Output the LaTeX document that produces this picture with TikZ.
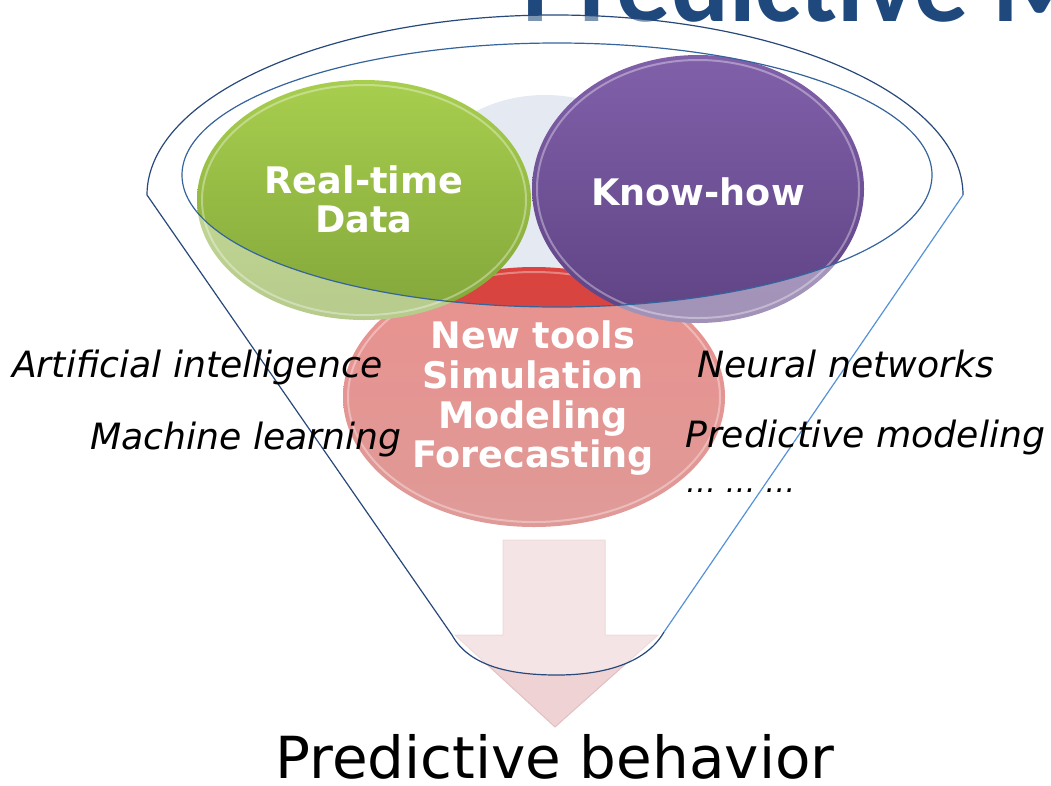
\documentclass[tikz,border=0pt]{standalone}
\usepackage{fontspec}
\setmainfont{DejaVu Sans}
\newfontfamily\titlefont{Carlito}
\definecolor{titleblue}{HTML}{1F497D}
\definecolor{bgpatch}{HTML}{E4E9F2}
\definecolor{greentop}{HTML}{A8CE4E}
\definecolor{greenbot}{HTML}{82A63A}
\definecolor{purptop}{HTML}{8160AA}
\definecolor{purpbot}{HTML}{5E4384}
\definecolor{redtop}{HTML}{DA433E}
\definecolor{redbot}{HTML}{C9524D}
\definecolor{arrowfill}{HTML}{EFD2D4}
\definecolor{arrowline}{HTML}{E2C0C2}
\definecolor{dkblue}{HTML}{27487A}
\definecolor{ltblue}{HTML}{5591D8}
\definecolor{mdblue}{HTML}{35649C}
\begin{document}
\begin{tikzpicture}[x=1pt,y=-1pt,
  lbl/.style={font=\fontsize{36.2}{40}\selectfont\itshape, anchor=base west, inner sep=0},
  boldtxt/.style={font=\fontsize{36.6}{40}\selectfont\bfseries, text=white, anchor=base, inner sep=0},
  rim/.style={draw=white, draw opacity=0.35, line width=2pt},
  funnelline/.style={line width=1.2pt},
]
\useasboundingbox (0,0) rectangle (1051,785);
% title (cut off at the top)
\begin{scope}
\clip (0,0) rectangle (1051,785);
\node[anchor=base west, inner sep=0, text=titleblue, font=\titlefont\bfseries\fontsize{108}{112}\selectfont] (title) at (522,21) {Predictive M};
\end{scope}
% background patch
\fill[bgpatch] (545,185) ellipse [x radius=120, y radius=90];
% red ellipse
\shade[top color=redtop, bottom color=redbot] (534,397) ellipse [x radius=191, y radius=130];
\draw[rim] (534,397) ellipse [x radius=186, y radius=125];
% green ellipse
\shade[top color=greentop, bottom color=greenbot] (364,200) ellipse [x radius=167, y radius=120];
\draw[rim] (364,200) ellipse [x radius=162, y radius=115];
% purple ellipse
\shade[top color=purptop, bottom color=purpbot] (698,189) ellipse [x radius=166, y radius=134];
\draw[rim] (698,189) ellipse [x radius=161, y radius=129];
% arrow
\filldraw[fill=arrowfill, draw=arrowline, line width=1pt]
  (503,540) -- (605,540) -- (605,635) -- (658,635) -- (555,727) -- (455,635) -- (503,635) -- cycle;
% funnel body overlay
\fill[white, fill opacity=0.42, even odd rule]
  (963,195) arc[start angle=0, end angle=-180, x radius=408, y radius=180]
  -- (452,635) .. controls (470,668) and (515,675) .. (557,675)
  .. controls (600,675) and (645,665) .. (664,632) -- cycle
  (557,175) ellipse [x radius=375, y radius=132];
% funnel outlines
\draw[funnelline, dkblue] (963,195) arc[start angle=0, end angle=-180, x radius=408, y radius=180]
  -- (452,635) .. controls (470,668) and (515,675) .. (557,675)
  .. controls (600,675) and (645,665) .. (664,632);
\draw[funnelline, ltblue] (664,632) -- (963,195);
\draw[funnelline, mdblue] (557,175) ellipse [x radius=375, y radius=132];
% ellipse texts
\node[boldtxt] (rt1) at (364,193) {Real-time};
\node[boldtxt] (rt2) at (364,232) {Data};
\node[boldtxt] (kh) at (698,205) {Know-how};
\node[boldtxt] (nt1) at (533,348) {New tools};
\node[boldtxt] (nt2) at (533,388) {Simulation};
\node[boldtxt] (nt3) at (533,428) {Modeling};
\node[boldtxt] (nt4) at (533,467) {Forecasting};
% side labels
\node[lbl] (ai) at (12,377) {Artificial intelligence};
\node[lbl] (ml) at (90,449) {Machine learning};
\node[lbl] (nn) at (697,377) {Neural networks};
\node[lbl] (pm) at (685,447) {Predictive modeling};
\node[lbl, font=\fontsize{30}{34}\selectfont\itshape] (dots) at (686,492) {… … …};
% bottom label
\node[anchor=base, inner sep=0, text depth=0pt, font=\fontsize{58}{64}\selectfont] (pb) at (555,778) {Predictive behavior};
\end{tikzpicture}
\end{document}
